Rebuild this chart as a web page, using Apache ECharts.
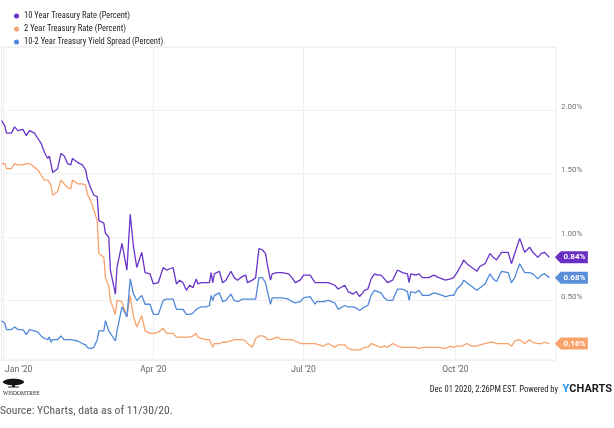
<!DOCTYPE html>
<html>
<head>
<meta charset="utf-8">
<script src="https://cdn.jsdelivr.net/npm/echarts@6/dist/echarts.min.js"></script>
<style>
  html, body { margin: 0; padding: 0; background: #fff; }
  #chart { width: 614px; height: 428px; }
</style>
</head>
<body>
<div id="chart"></div>
<script>
// sample dates (roughly every 2-3 days)
const dates = [
  '2019-12-31', '2020-01-02', '2020-01-03', '2020-01-06', '2020-01-08', '2020-01-10', '2020-01-13', '2020-01-15',
  '2020-01-17', '2020-01-20', '2020-01-22', '2020-01-24', '2020-01-26', '2020-01-28', '2020-01-29', '2020-01-30',
  '2020-01-31', '2020-02-03', '2020-02-05', '2020-02-07', '2020-02-09', '2020-02-11', '2020-02-12', '2020-02-15',
  '2020-02-18', '2020-02-20', '2020-02-21', '2020-02-23', '2020-02-25', '2020-02-27', '2020-02-28', '2020-03-02',
  '2020-03-03', '2020-03-05', '2020-03-06', '2020-03-09', '2020-03-10', '2020-03-13', '2020-03-16', '2020-03-18',
  '2020-03-20', '2020-03-22', '2020-03-25', '2020-03-27', '2020-03-30', '2020-04-01', '2020-04-04', '2020-04-07',
  '2020-04-09', '2020-04-13', '2020-04-15', '2020-04-17', '2020-04-19', '2020-04-21', '2020-04-23', '2020-04-25',
  '2020-04-27', '2020-04-28', '2020-04-30', '2020-05-03', '2020-05-05', '2020-05-06', '2020-05-07', '2020-05-08',
  '2020-05-11', '2020-05-13', '2020-05-15', '2020-05-18', '2020-05-20', '2020-05-22', '2020-05-25', '2020-05-27',
  '2020-05-28', '2020-05-31', '2020-06-02', '2020-06-04', '2020-06-06', '2020-06-08', '2020-06-09', '2020-06-11',
  '2020-06-12', '2020-06-15', '2020-06-18', '2020-06-22', '2020-06-24', '2020-06-26', '2020-06-29', '2020-07-01',
  '2020-07-05', '2020-07-08', '2020-07-09', '2020-07-13', '2020-07-16', '2020-07-20', '2020-07-22', '2020-07-26',
  '2020-07-28', '2020-07-31', '2020-08-02', '2020-08-04', '2020-08-07', '2020-08-09', '2020-08-11', '2020-08-13',
  '2020-08-15', '2020-08-17', '2020-08-19', '2020-08-21', '2020-08-24', '2020-08-27', '2020-08-30', '2020-09-02',
  '2020-09-03', '2020-09-04', '2020-09-07', '2020-09-09', '2020-09-11', '2020-09-15', '2020-09-18', '2020-09-21',
  '2020-09-25', '2020-09-28', '2020-09-30', '2020-10-02', '2020-10-05', '2020-10-06', '2020-10-08', '2020-10-11',
  '2020-10-14', '2020-10-16', '2020-10-19', '2020-10-22', '2020-10-24', '2020-10-26', '2020-10-29', '2020-11-02',
  '2020-11-04', '2020-11-06', '2020-11-09', '2020-11-12', '2020-11-15', '2020-11-17', '2020-11-20', '2020-11-22',
  '2020-11-24', '2020-11-27'
];

// 10 Year Treasury Rate (%)
const tenYear = [
  1.92, 1.88, 1.82, 1.82, 1.87, 1.84, 1.85, 1.80, 1.84, 1.82, 1.78, 1.74, 1.67, 1.62, 1.64, 1.58,
  1.51, 1.54, 1.66, 1.64, 1.58, 1.57, 1.62, 1.59, 1.57, 1.53, 1.46, 1.39, 1.33, 1.32, 1.13, 1.11,
  1.03, 1.00, 0.74, 0.55, 0.76, 0.95, 0.74, 1.18, 0.92, 0.76, 0.88, 0.72, 0.71, 0.63, 0.64, 0.76,
  0.74, 0.76, 0.63, 0.66, 0.64, 0.58, 0.62, 0.60, 0.67, 0.63, 0.64, 0.64, 0.64, 0.72, 0.64, 0.71,
  0.73, 0.64, 0.66, 0.73, 0.68, 0.66, 0.69, 0.70, 0.64, 0.66, 0.68, 0.91, 0.90, 0.87, 0.79, 0.66,
  0.71, 0.72, 0.72, 0.71, 0.68, 0.64, 0.66, 0.70, 0.70, 0.64, 0.65, 0.64, 0.64, 0.62, 0.59, 0.62,
  0.57, 0.55, 0.57, 0.53, 0.58, 0.59, 0.67, 0.71, 0.70, 0.70, 0.67, 0.64, 0.66, 0.74, 0.72, 0.71,
  0.64, 0.71, 0.70, 0.71, 0.68, 0.68, 0.70, 0.68, 0.66, 0.67, 0.68, 0.72, 0.79, 0.82, 0.79, 0.76,
  0.73, 0.77, 0.79, 0.87, 0.84, 0.82, 0.88, 0.88, 0.79, 0.87, 0.99, 0.88, 0.92, 0.88, 0.84, 0.87,
  0.88, 0.84
];

// 2 Year Treasury Rate (%)
const twoYear = [
  1.58, 1.58, 1.54, 1.54, 1.58, 1.57, 1.57, 1.58, 1.58, 1.55, 1.53, 1.49, 1.45, 1.45, 1.44, 1.41,
  1.33, 1.36, 1.45, 1.42, 1.39, 1.38, 1.45, 1.42, 1.42, 1.41, 1.34, 1.29, 1.21, 1.13, 0.87, 0.84,
  0.68, 0.61, 0.50, 0.39, 0.50, 0.49, 0.37, 0.54, 0.37, 0.29, 0.38, 0.26, 0.24, 0.24, 0.25, 0.28,
  0.24, 0.24, 0.21, 0.21, 0.21, 0.21, 0.21, 0.22, 0.24, 0.21, 0.20, 0.19, 0.19, 0.18, 0.13, 0.16,
  0.16, 0.17, 0.17, 0.18, 0.19, 0.19, 0.19, 0.18, 0.16, 0.13, 0.20, 0.22, 0.22, 0.21, 0.19, 0.19,
  0.19, 0.21, 0.19, 0.19, 0.19, 0.18, 0.16, 0.16, 0.16, 0.16, 0.16, 0.14, 0.16, 0.13, 0.15, 0.15,
  0.12, 0.11, 0.11, 0.11, 0.13, 0.13, 0.16, 0.15, 0.14, 0.13, 0.14, 0.13, 0.16, 0.14, 0.13, 0.13,
  0.13, 0.13, 0.13, 0.12, 0.13, 0.13, 0.13, 0.13, 0.12, 0.14, 0.13, 0.14, 0.14, 0.15, 0.16, 0.14,
  0.14, 0.15, 0.16, 0.17, 0.17, 0.16, 0.16, 0.16, 0.14, 0.18, 0.19, 0.16, 0.19, 0.17, 0.16, 0.16,
  0.17, 0.16
];

// 10-2 Year Treasury Yield Spread (%)
const spread = [
  0.34, 0.32, 0.27, 0.27, 0.29, 0.27, 0.27, 0.23, 0.27, 0.26, 0.25, 0.22, 0.20, 0.19, 0.21, 0.17,
  0.19, 0.19, 0.22, 0.19, 0.19, 0.19, 0.19, 0.18, 0.16, 0.15, 0.13, 0.12, 0.13, 0.19, 0.26, 0.26,
  0.34, 0.26, 0.24, 0.18, 0.26, 0.45, 0.37, 0.67, 0.55, 0.50, 0.54, 0.47, 0.47, 0.39, 0.39, 0.50,
  0.51, 0.51, 0.43, 0.43, 0.43, 0.39, 0.39, 0.40, 0.43, 0.43, 0.45, 0.45, 0.46, 0.54, 0.50, 0.54,
  0.56, 0.49, 0.50, 0.55, 0.50, 0.49, 0.51, 0.51, 0.50, 0.51, 0.51, 0.68, 0.68, 0.64, 0.58, 0.47,
  0.52, 0.52, 0.52, 0.51, 0.49, 0.48, 0.49, 0.52, 0.53, 0.47, 0.49, 0.49, 0.50, 0.48, 0.43, 0.46,
  0.45, 0.45, 0.44, 0.42, 0.45, 0.46, 0.54, 0.58, 0.57, 0.56, 0.52, 0.50, 0.50, 0.59, 0.59, 0.57,
  0.50, 0.57, 0.56, 0.58, 0.54, 0.54, 0.56, 0.55, 0.53, 0.54, 0.54, 0.59, 0.63, 0.66, 0.64, 0.61,
  0.58, 0.60, 0.63, 0.71, 0.67, 0.65, 0.73, 0.72, 0.64, 0.68, 0.79, 0.72, 0.72, 0.71, 0.67, 0.70,
  0.71, 0.68
];

const quarterTicks = ['2020-01-01', '2020-04-01', '2020-07-01', '2020-10-01'];
const quarterLabels = ["Jan '20", "Apr '20", "Jul '20", "Oct '20"];
const yTicks = [0.5, 1.0, 1.5, 2.0];

// one category per calendar day, so the x spacing follows time
const allDays = [];
for (let t = Date.UTC(2019, 11, 31); t <= Date.UTC(2020, 11, 1); t += 86400000) {
    allDays.push(new Date(t).toISOString().slice(0, 10));
}

const purple = '#6733c9',
    orange = '#f7a26c',
    blue = '#4f88da';

const font = 'Roboto';
const narrow = "'Roboto Condensed', 'Liberation Sans Narrow', 'DejaVu Sans Condensed', Roboto";

function toPairs(values) {
    return dates.map((d, i) => [allDays.indexOf(d), values[i]]);
}

// little tag at the end of each line showing the last value
function endTag(values, color) {
    const last = values[values.length - 1];
    return {
        silent: true,
        symbol: 'path://M0,6L6,0L34,0L34,12L6,12Z',
        symbolSize: [33, 12],
        symbolOffset: [22, 0],
        itemStyle: { color: color },
        label: {
            show: true,
            formatter: last.toFixed(2) + '%',
            color: '#fff',
            fontSize: 8,
            fontWeight: 'bold',
            fontFamily: font,
            offset: [3, 0]
        },
        data: [{ coord: [allDays.indexOf(dates[dates.length - 1]), last] }]
    };
}

function makeSeries(name, values, color, tagColor) {
    return {
        name: name,
        type: 'line',
        showSymbol: false,
        symbol: 'circle',
        color: color,
        lineStyle: { width: 1.3, color: color },
        data: toPairs(values),
        markPoint: endTag(values, tagColor)
    };
}

const chart = echarts.init(document.getElementById('chart'));

const option = {
    animation: false,
    backgroundColor: '#fff',
    legend: {
        orient: 'vertical',
        left: 9,
        top: 6,
        icon: 'circle',
        itemWidth: 5,
        itemHeight: 5,
        itemGap: 3,
        textStyle: { fontSize: 8.5, color: '#222', fontFamily: narrow, lineHeight: 10 },
        data: ['10 Year Treasury Rate (Percent)', '2 Year Treasury Rate (Percent)', '10-2 Year Treasury Yield Spread (Percent)']
    },
    grid: {
        left: 1.5,
        right: 58,
        top: 47,
        bottom: 68,
        show: true,
        borderColor: '#ececec',
        borderWidth: 1
    },
    xAxis: {
        type: 'category',
        data: allDays,
        boundaryGap: false,
        axisLine: { show: false },
        axisTick: { show: false },
        axisLabel: {
            interval: (i, v) => quarterTicks.includes(v),
            formatter: (v) => {
                const k = quarterTicks.indexOf(v);
                if (k === 0) return '{first|' + quarterLabels[k] + '}';
                return quarterLabels[k];
            },
            rich: { first: { padding: [0, 0, 0, 31], fontSize: 8.5, color: '#666', fontFamily: font } },
            color: '#666',
            fontSize: 8.5,
            fontFamily: font,
            margin: 5
        },
        splitLine: {
            show: true,
            interval: (i, v) => quarterTicks.includes(v),
            lineStyle: { color: '#efefef', width: 1 }
        }
    },
    yAxis: {
        type: 'value',
        position: 'right',
        min: 0.03,
        max: 2.5,
        splitNumber: 5,
        axisLine: { show: false },
        axisTick: { show: false },
        axisLabel: {
            formatter: (v) => yTicks.some(t => Math.abs(t - v) < 1e-6) ? v.toFixed(2) + '%' : '',
            color: '#777',
            fontSize: 8,
            fontFamily: font,
            margin: 5,
            verticalAlign: 'bottom',
            lineHeight: 7
        },
        splitLine: { lineStyle: { color: '#f0f0f0', width: 1 } }
    },
    graphic: [
        // WisdomTree logo, rough tree + wordmark
        { type: 'ellipse', shape: { cx: 13.5, cy: 382, rx: 10.5, ry: 3.2 }, style: { fill: '#151515' } },
        { type: 'rect', shape: { x: 12.2, y: 383, width: 2.6, height: 4 }, style: { fill: '#151515' } },
        { type: 'rect', shape: { x: 8, y: 386.6, width: 11, height: 0.9 }, style: { fill: '#151515' } },
        {
            type: 'text', left: 3, top: 391,
            style: { text: 'WISDOMTREE', fontSize: 5.5, fontFamily: "'Liberation Serif', serif", fill: '#222' }
        },
        {
            type: 'text', right: 56, top: 385,
            style: { text: 'Dec 01 2020, 2:26PM EST. Powered by', fontSize: 8.5, fontFamily: narrow, fill: '#222' }
        },
        {
            type: 'text', right: 2, top: 383.5,
            style: {
                text: '{y|Y}{c|CHARTS}',
                rich: {
                    y: { fontSize: 11, fontWeight: 'bold', fill: '#1f8fe6', fontFamily: font },
                    c: { fontSize: 11, fontWeight: 'bold', fill: '#1c1c1c', fontFamily: font }
                }
            }
        },
        {
            type: 'text', left: 0, top: 405,
            style: { text: 'Source: YCharts, data as of 11/30/20.', fontSize: 11.6, fontFamily: narrow, fill: '#555' }
        }
    ],
    series: [
        makeSeries('10 Year Treasury Rate (Percent)', tenYear, purple, '#6a30c6'),
        makeSeries('2 Year Treasury Rate (Percent)', twoYear, orange, '#f8a46c'),
        makeSeries('10-2 Year Treasury Yield Spread (Percent)', spread, blue, '#5a8edb')
    ]
};

chart.setOption(option);
</script>
</body>
</html>
